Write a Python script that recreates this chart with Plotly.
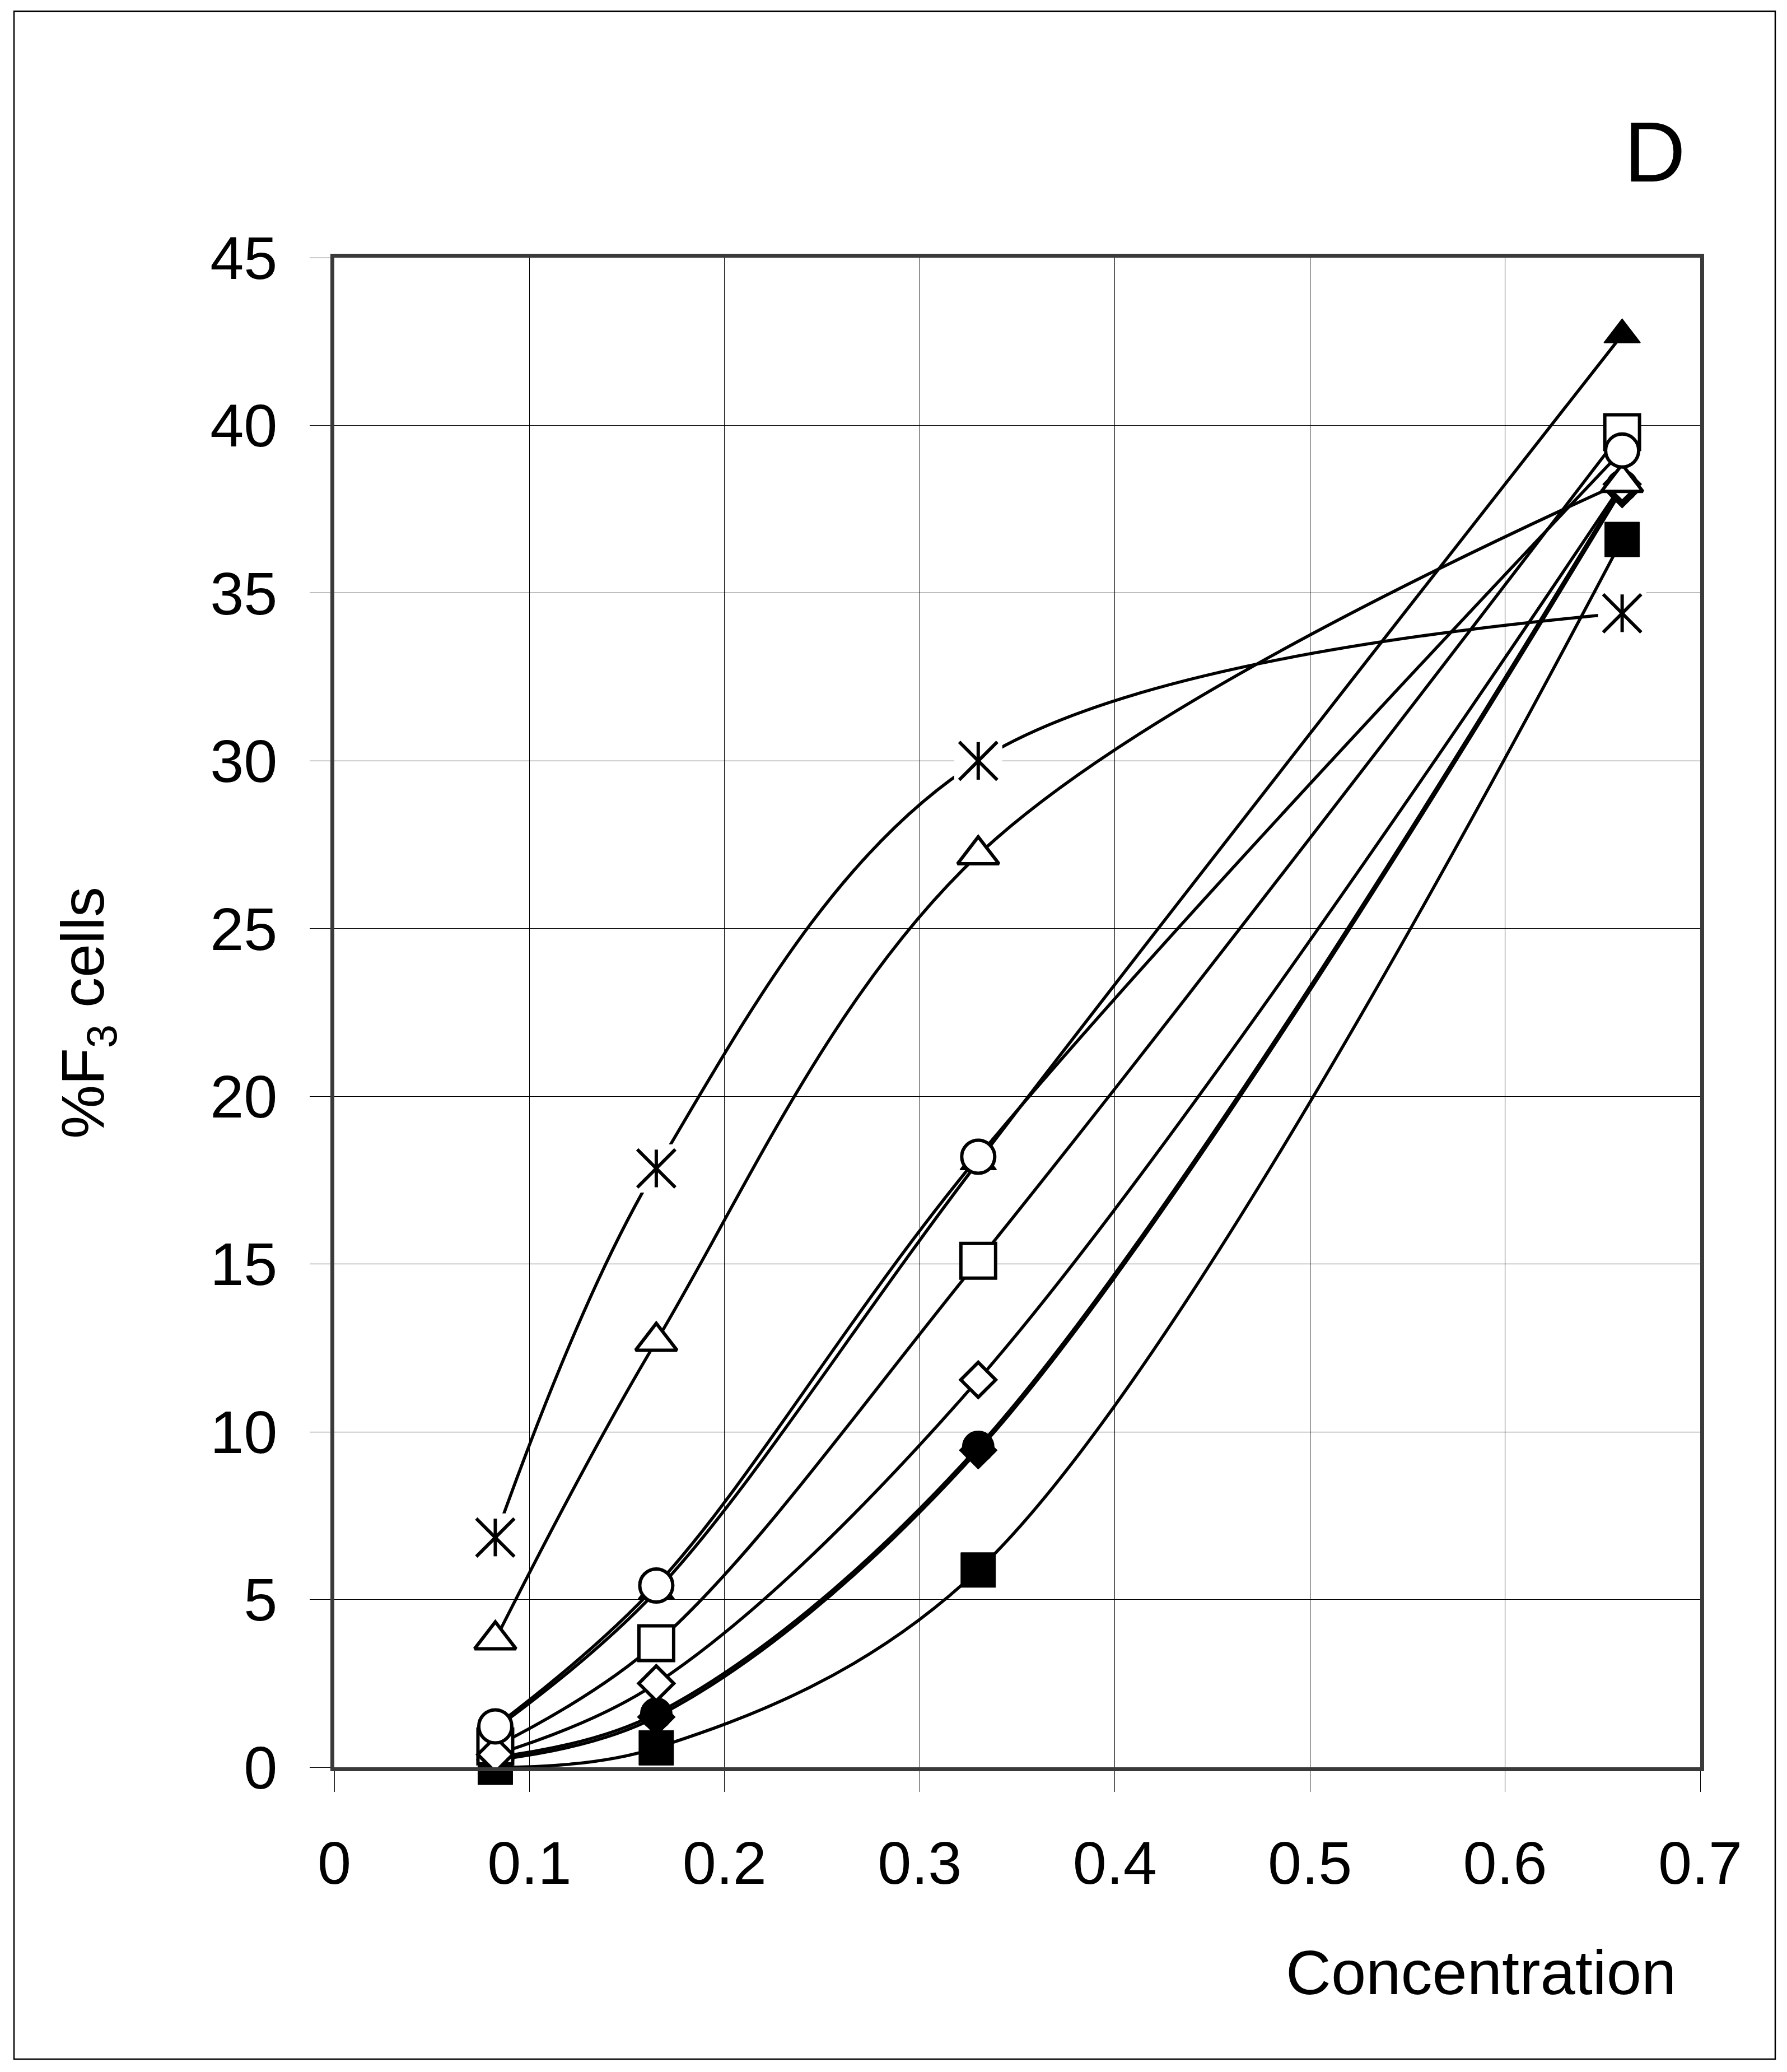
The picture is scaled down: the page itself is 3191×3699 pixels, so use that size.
import plotly.graph_objects as go

# x: concentration
conc = [0.0825, 0.165, 0.33, 0.66]

# y: %F3 cells, one list per series
star_y = [6.85, 17.85, 30.0, 34.4]
tri_open_y = [3.8, 12.7, 27.2, 38.3]
circ_open_y = [1.22, 5.42, 18.2, 39.25]
sq_open_y = [0.62, 3.7, 15.1, 39.8]
dia_open_y = [0.38, 2.5, 11.55, 38.25]
circ_fill_y = [0.3, 1.6, 9.55, 38.2]
dia_fill_y = [0.22, 1.5, 9.45, 38.1]
sq_fill_y = [0.0, 0.58, 5.88, 36.6]
tri_fill_y = [1.15, 5.25, 18.05, 42.7]

x_ticks = [0, 0.1, 0.2, 0.3, 0.4, 0.5, 0.6, 0.7]
x_tick_text = ["0", "0.1", "0.2", "0.3", "0.4", "0.5", "0.6", "0.7"]
y_ticks = [0, 5, 10, 15, 20, 25, 30, 35, 40, 45]

FONT = "Liberation Sans, Arial, sans-serif"

# plot area on the page (px); the page body adds 8px of margin
L, R, T, B = 597, 3036, 460, 3155
W, H = R - L, B - T


def px(x):
    return (x - L) / W


def py(y):
    return (B - y) / H


# 그리는 순서 (아래 -> 위)
series = [
    (circ_fill_y, "circle", "black", 56, 2),
    (dia_fill_y, "diamond", "black", 51, 2),
    (sq_fill_y, "square", "black", 62, 1),
    (tri_fill_y, "triangle-up", "black", 56, 2),
    (sq_open_y, "square", "white", 62, 6),
    (dia_open_y, "diamond", "white", 48, 6),
    (tri_open_y, "triangle-up", "white", 64, 6),
    (circ_open_y, "circle", "white", 59, 6),
]

fig = go.Figure()

# smoothed lines first, so every marker sits on top
for ys in [s[0] for s in series] + [star_y]:
    fig.add_trace(go.Scatter(
        x=conc, y=ys, mode="lines",
        line=dict(color="black", width=5.5, shape="spline", smoothing=1.0),
        cliponaxis=False, showlegend=False, hoverinfo="skip",
    ))

for ys, sym, fill, size, lw in series:
    fig.add_trace(go.Scatter(
        x=conc, y=ys, mode="markers",
        marker=dict(symbol=sym, size=size, color=fill,
                    line=dict(color="black", width=lw)),
        cliponaxis=False, showlegend=False,
    ))

# asterisk marker: white box + X + vertical bar
fig.add_trace(go.Scatter(
    x=conc, y=star_y, mode="markers",
    marker=dict(symbol="square", size=86, color="white", line=dict(width=0)),
    cliponaxis=False, showlegend=False, hoverinfo="skip",
))
fig.add_trace(go.Scatter(
    x=conc, y=star_y, mode="markers",
    marker=dict(symbol="x-thin-open", size=68, color="black",
                line=dict(color="black", width=6)),
    cliponaxis=False, showlegend=False, hoverinfo="skip",
))
fig.add_trace(go.Scatter(
    x=conc, y=star_y, mode="markers",
    marker=dict(symbol="line-ns-open", size=48, color="black",
                line=dict(color="black", width=6)),
    cliponaxis=False, showlegend=False,
))

axis_common = dict(
    showgrid=True, gridcolor="black", gridwidth=1.3,
    ticks="outside", ticklen=37, tickwidth=1.3, tickcolor="black",
    showline=True, linewidth=7, linecolor="#3a3a3a", mirror=True,
    zeroline=False,
    tickfont=dict(family=FONT, size=108, color="black"),
)

fig.update_layout(
    width=3191, height=3699,
    margin=dict(l=L - 8, r=3191 - (R - 8), t=T - 8, b=3699 - (B - 8)),
    paper_bgcolor="white", plot_bgcolor="white",
    xaxis=dict(range=[0, 0.7], tickvals=x_ticks, ticktext=x_tick_text,
               ticklabelstandoff=34, **axis_common),
    yaxis=dict(range=[0, 45], tickvals=y_ticks,
               ticklabelstandoff=36, **axis_common),
    annotations=[
        dict(text="Concentration", xref="paper", yref="paper",
             x=px(2644), y=py(3521), xanchor="center", yanchor="middle",
             showarrow=False, font=dict(family=FONT, size=112, color="black")),
        dict(text="%F<sub>3</sub> cells", xref="paper", yref="paper",
             x=px(155), y=py(1808), xanchor="center", yanchor="middle",
             textangle=-90, showarrow=False,
             font=dict(family=FONT, size=108, color="black")),
        dict(text="D", xref="paper", yref="paper",
             x=px(2955), y=py(271), xanchor="center", yanchor="middle",
             showarrow=False, font=dict(family=FONT, size=152, color="black")),
    ],
    shapes=[
        # outer frame of the whole figure
        dict(type="rect", xref="paper", yref="paper",
             x0=px(25), x1=px(3170), y0=py(3676), y1=py(20),
             line=dict(color="black", width=2.5)),
    ],
)

fig.write_html("out.html")
